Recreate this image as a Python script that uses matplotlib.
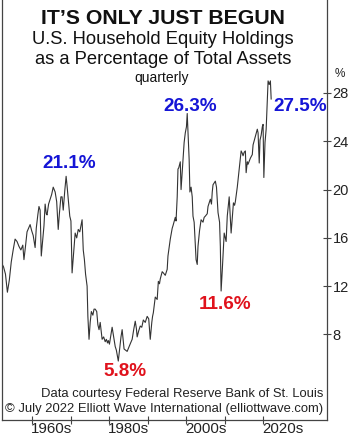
import matplotlib
matplotlib.use("Agg")
import matplotlib.pyplot as plt

# quarterly household equity share (year, %)
years = [
    1952.0, 1952.5, 1953.0, 1953.5, 1954.0, 1954.5, 1955.0, 1955.5, 1956.0, 1956.5,
    1957.0, 1957.5, 1957.8, 1958.2, 1958.6, 1959.0, 1959.4, 1959.8, 1960.2, 1960.7,
    1961.0, 1961.4, 1961.7, 1962.0, 1962.3, 1962.7, 1963.0, 1963.3, 1963.6, 1963.8,
    1964.2, 1964.6, 1965.0, 1965.4, 1965.9, 1966.3, 1966.7, 1967.0, 1967.4, 1967.7,
    1968.0, 1968.4, 1968.75, 1969.0, 1969.3, 1969.7, 1970.0, 1970.3, 1970.7, 1971.1,
    1971.5, 1971.9, 1972.3, 1972.6, 1972.9, 1973.2, 1973.5, 1973.8, 1974.2, 1974.4,
    1974.7, 1975.0, 1975.3, 1975.7, 1976.0, 1976.3, 1976.7, 1977.0, 1977.3, 1977.6,
    1977.9, 1978.1, 1978.5, 1978.9, 1979.2, 1979.5, 1979.7, 1980.0, 1980.2, 1980.7,
    1981.0, 1981.5, 1981.8, 1982.3, 1982.7, 1983.0, 1983.3, 1983.8, 1984.2, 1984.6,
    1985.1, 1985.5, 1985.9, 1986.3, 1986.7, 1987.0, 1987.2, 1987.6, 1988.0, 1988.4,
    1988.8, 1989.3, 1989.8, 1990.2, 1990.6, 1991.0, 1991.2, 1991.4, 1991.9, 1992.4,
    1992.7, 1993.0, 1993.2, 1993.7, 1994.0, 1994.5, 1995.0, 1995.2, 1995.8, 1996.3,
    1996.5, 1997.1, 1997.3, 1997.6, 1997.8, 1998.0, 1998.4, 1998.6, 1999.1, 1999.4,
    1999.7, 2000.0, 2000.2, 2000.4, 2000.7, 2000.9, 2001.2, 2001.5, 2001.7, 2002.0,
    2002.5, 2002.8, 2003.0, 2003.4, 2003.8, 2004.3, 2004.6, 2004.9, 2005.4, 2005.6,
    2006.2, 2006.5, 2006.7, 2006.9, 2007.5, 2007.8, 2008.0, 2008.2, 2008.6, 2008.8,
    2009.0, 2009.3, 2009.8, 2010.3, 2010.6, 2011.1, 2011.6, 2011.9, 2012.2, 2012.5,
    2012.7, 2013.2, 2013.7, 2014.2, 2014.5, 2014.7, 2015.0, 2015.3, 2015.5, 2015.8,
    2016.0, 2016.6, 2017.1, 2017.3, 2017.9, 2018.4, 2018.6, 2018.9, 2019.1, 2019.4,
    2019.7, 2019.9, 2020.1, 2020.4, 2020.7, 2020.9, 2021.2, 2021.5, 2021.8, 2022.0,
]
share = [
    13.9, 13.6, 13.0, 11.5, 12.5, 14.0, 15.0, 15.9, 15.7, 15.3,
    15.0, 15.4, 14.2, 15.3, 16.5, 16.8, 17.1, 16.6, 16.2, 15.2,
    16.8, 17.9, 18.6, 18.3, 14.5, 15.9, 17.0, 18.8, 18.0, 17.9,
    18.8, 19.2, 19.6, 20.2, 19.8, 19.0, 16.7, 18.0, 19.4, 19.4,
    18.3, 19.9, 21.1, 20.3, 19.2, 17.8, 17.4, 13.1, 14.8, 16.4,
    16.0, 16.7, 16.5, 17.0, 17.5, 15.0, 14.2, 13.0, 12.0, 9.5,
    7.6, 9.0, 9.9, 9.6, 10.1, 10.1, 9.9, 8.8, 8.4, 9.0,
    8.2, 7.6, 7.8, 7.4, 7.6, 7.3, 7.5, 7.2, 7.6, 8.6,
    8.0, 7.0, 6.7, 5.8, 6.9, 7.8, 8.4, 6.8, 6.7, 6.6,
    7.0, 7.3, 7.6, 8.4, 9.1, 8.5, 7.8, 8.3, 8.7, 8.6,
    9.2, 9.0, 9.5, 9.3, 7.6, 9.0, 9.5, 9.8, 11.1, 10.9,
    12.4, 12.2, 12.6, 13.2, 13.1, 12.9, 13.4, 14.5, 15.9, 16.8,
    17.0, 17.7, 17.4, 19.4, 21.7, 21.8, 22.3, 20.0, 22.5, 23.9,
    24.7, 25.2, 26.3, 24.8, 22.5, 19.8, 20.2, 19.4, 17.8, 17.3,
    14.2, 13.8, 15.3, 16.6, 17.5, 17.3, 17.7, 17.8, 18.0, 18.6,
    19.2, 18.8, 19.8, 20.4, 20.7, 20.2, 19.2, 18.1, 17.3, 15.3,
    11.6, 13.3, 16.4, 15.7, 17.8, 19.4, 16.4, 17.6, 18.9, 18.7,
    19.0, 20.2, 21.7, 23.2, 23.0, 22.8, 23.1, 23.2, 21.4, 22.3,
    22.1, 22.6, 22.9, 23.7, 24.4, 25.0, 24.7, 22.2, 24.1, 24.5,
    25.2, 25.4, 21.0, 23.9, 25.0, 26.6, 29.0, 28.7, 29.0, 27.5,
]

# labelled highs / lows
note_text = ["21.1%", "26.3%", "27.5%", "5.8%", "11.6%"]
note_year = [1968.75, 2000.2, 2022.0, 1982.3, 2009.0]
note_val = [21.1, 26.3, 27.5, 5.8, 11.6]
note_col = ["#1515d6", "#1515d6", "#1515d6", "#e0121c", "#e0121c"]

decade_ticks = [1960, 1970, 1980, 1990, 2000, 2010, 2020]
decade_labels = ["1960s", "1980s", "2000s", "2020s"]
decade_label_pos = [1965, 1985, 2005, 2025]
y_ticks = [8, 12, 16, 20, 24, 28]

FONT = "Liberation Sans"
INK = "#222222"
W, H = 351, 440

fig = plt.figure(figsize=(W / 100, H / 100), dpi=100)
ax = fig.add_axes([2 / W, 20.5 / H, 325 / W, 419.5 / H])
ax.plot(years, share, color="#333333", lw=0.8)
ax.set_xlim(1952.1, 2036.5)
ax.set_ylim(0.96, 35.7)

for s in ("left", "right", "bottom"):
    ax.spines[s].set_color("#444444")
    ax.spines[s].set_linewidth(0.9)
ax.spines["top"].set_visible(False)

ax.yaxis.tick_right()
ax.set_yticks(y_ticks)
ax.set_yticklabels([str(v) for v in y_ticks], fontsize=10.5, family=FONT,
                   color=INK)
ax.tick_params(axis="y", direction="inout", length=6, width=0.8, pad=1,
               colors="#444444", labelcolor=INK)

ax.set_xticks(decade_ticks)
ax.set_xticklabels([])
ax.set_xticks(decade_label_pos, minor=True)
ax.set_xticklabels(decade_labels, minor=True, fontsize=10.8, family=FONT,
                   color=INK)
ax.tick_params(axis="x", which="major", direction="inout", length=6,
               width=0.8, colors="#444444")
ax.tick_params(axis="x", which="minor", length=0, pad=2)

ax.text(1.025, 29.6, "%", transform=ax.get_yaxis_transform(), fontsize=8.5,
        family=FONT, color=INK, ha="left", va="center")


def px(x, y):
    return x / W, 1 - y / H


fig.text(*px(163, 18), "IT\u2019S ONLY JUST BEGUN", fontsize=15.3,
         fontweight="bold", family=FONT, ha="center", va="center",
         color="#111111")
fig.text(*px(163, 40), "U.S. Household Equity Holdings", fontsize=13.2,
         family=FONT, ha="center", va="center", color="#111111")
fig.text(*px(163, 59), "as a Percentage of Total Assets", fontsize=13.2,
         family=FONT, ha="center", va="center", color="#111111")
fig.text(*px(162, 78), "quarterly", fontsize=10, family=FONT,
         ha="center", va="center", color="#111111")

# note offsets in pixels relative to the data point (x centre, y centre)
offs = [(3, -13), (3, -7), (29, 7), (7, 10), (4, 13)]
for t, yr, v, c, (dx, dy) in zip(note_text, note_year, note_val,
                                 note_col, offs):
    ax.annotate(t, (yr, v), xytext=(dx * 0.72, -dy * 0.72),
                textcoords="offset points", fontsize=13.6, fontweight="bold",
                family=FONT, color=c, ha="center", va="center")

fig.text(*px(323, 394), "Data courtesy Federal Reserve Bank of St. Louis",
         fontsize=9.4, family=FONT, ha="right", va="center", color=INK)
fig.text(*px(323, 409),
         "\u00a9 July 2022 Elliott Wave International (elliottwave.com)",
         fontsize=9.4, family=FONT, ha="right", va="center", color=INK)

fig.savefig("out.png", dpi=100)
